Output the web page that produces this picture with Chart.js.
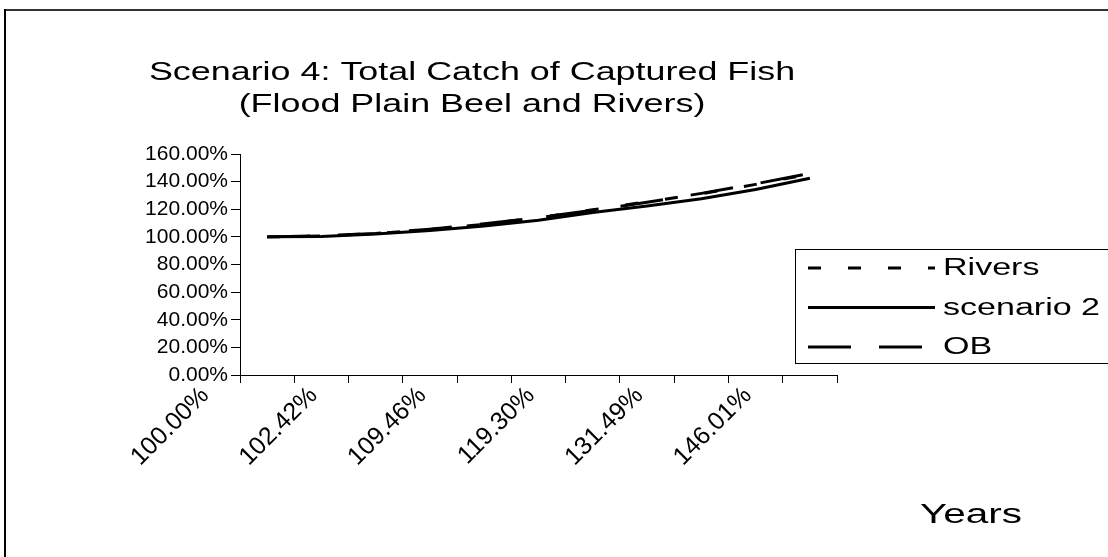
<!DOCTYPE html>
<html>
<head>
<meta charset="utf-8">
<script src="https://cdn.jsdelivr.net/npm/chart.js@4"></script>
<style>
  body { margin: 0; background: #fff; }
  #wrap { width: 1108px; height: 557px; position: relative; }
</style>
</head>
<body>
<div id="wrap"><canvas id="catchChart" width="1108" height="557"></canvas></div>
<script>
// category tick labels (only every other one is printed in the original)
const xTickLabels = ['100.00%', '', '102.42%', '', '109.46%', '', '119.30%', '', '131.49%', '', '146.01%'];

// series values, in percent
const riversValues = [100, 100.7, 102.3, 105.3, 109.2, 113.8, 119.6, 125.4, 131.2, 138.0, 145.5];
const scenario2Values = [100, 100.2, 102.0, 104.6, 107.9, 112.0, 117.6, 122.3, 127.6, 134.3, 142.4];
const obValues = [100, 100.9, 102.42, 105.6, 109.46, 114.0, 119.3, 125.0, 131.49, 138.4, 146.01];

const titleLines = ['Scenario 4: Total Catch of Captured Fish', '(Flood Plain Beel and Rivers)'];
const xAxisTitle = 'Years';

const FONT = "'Liberation Sans', Arial, sans-serif";

// the original text is drawn wide, so stretch it horizontally
function drawWideText(ctx, text, x, y, size, stretch, align) {
    ctx.save();
    ctx.font = size + 'px ' + FONT;
    ctx.textBaseline = 'middle';
    ctx.textAlign = align;
    ctx.translate(x, y);
    ctx.scale(stretch, 1);
    ctx.fillText(text, 0, 0);
    ctx.restore();
}

// frame lines at top and left of the picture
const framePlugin = {
    id: 'frame',
    beforeDraw(chart) {
        const ctx = chart.ctx;
        ctx.save();
        ctx.fillStyle = '#fff';
        ctx.fillRect(0, 0, chart.width, chart.height);
        ctx.fillStyle = '#333';
        ctx.fillRect(4, 9, chart.width, 2);
        ctx.fillStyle = '#000';
        ctx.fillRect(4, 9, 2, chart.height);
        ctx.restore();
    }
};

// title, boxed legend overlapping the plot, and the "Years" caption
const textPlugin = {
    id: 'textAndLegend',
    afterDraw(chart) {
        const ctx = chart.ctx;
        const area = chart.chartArea;
        ctx.save();
        ctx.fillStyle = '#000';

        titleLines.forEach((line, i) => {
            drawWideText(ctx, line, 472, 73 + i * 32, 26, 1.38, 'center');
        });

        // legend box
        const left = area.right - 42;
        const top = area.top + 95;
        ctx.strokeStyle = '#000';
        ctx.lineWidth = 1;
        ctx.fillStyle = '#fff';
        ctx.fillRect(left, top, 330, 114);
        ctx.strokeRect(left + 0.5, top + 0.5, 330, 114);

        chart.data.datasets.forEach((ds, i) => {
            const y = top + 19 + i * 39.5;
            ctx.strokeStyle = ds.borderColor;
            ctx.lineWidth = ds.borderWidth;
            ctx.setLineDash(ds.borderDash || []);
            ctx.beginPath();
            ctx.moveTo(left + 13, y);
            ctx.lineTo(left + 140, y);
            ctx.stroke();
            ctx.setLineDash([]);
            ctx.fillStyle = '#000';
            drawWideText(ctx, ds.label, left + 148, y + 1, 23, 1.48, 'left');
        });

        drawWideText(ctx, xAxisTitle, area.right + 83, 516, 27, 1.5, 'left');
        ctx.restore();
    }
};

const ctx = document.getElementById('catchChart').getContext('2d');
new Chart(ctx, {
    type: 'line',
    data: {
        labels: xTickLabels,
        datasets: [
            {
                label: 'Rivers',
                data: riversValues,
                borderColor: '#000',
                borderWidth: 3,
                borderDash: [13, 27],
                pointRadius: 0,
                fill: false,
                tension: 0
            },
            {
                label: 'scenario 2',
                data: scenario2Values,
                borderColor: '#000',
                borderWidth: 3,
                pointRadius: 0,
                fill: false,
                tension: 0
            },
            {
                label: 'OB',
                data: obValues,
                borderColor: '#000',
                borderWidth: 3,
                borderDash: [43, 28],
                pointRadius: 0,
                fill: false,
                tension: 0
            }
        ]
    },
    options: {
        responsive: false,
        animation: false,
        layout: { padding: { left: 105, right: 271, top: 154, bottom: 10 } },
        plugins: {
            legend: { display: false },
            tooltip: { enabled: false },
            title: { display: false }
        },
        scales: {
            x: {
                offset: true,
                grid: { drawOnChartArea: false, offset: true, color: '#000', tickLength: 8 },
                border: { color: '#000', width: 1 },
                ticks: {
                    autoSkip: false,
                    maxRotation: 45,
                    minRotation: 45,
                    labelOffset: -62,
                    padding: -2,
                    color: '#000',
                    font: { family: FONT, size: 25 }
                },
                afterFit(scale) { scale.height = 172; }
            },
            y: {
                min: 0,
                max: 160,
                grid: { drawOnChartArea: false, color: '#000', tickLength: 9 },
                border: { color: '#000', width: 1 },
                ticks: {
                    stepSize: 20,
                    autoSkip: false,
                    color: '#000',
                    padding: 3,
                    font: { family: FONT, size: 21 },
                    callback: v => v.toFixed(2) + '%'
                },
                afterFit(scale) { scale.width = 135; }
            }
        }
    },
    plugins: [framePlugin, textPlugin]
});
</script>
</body>
</html>
